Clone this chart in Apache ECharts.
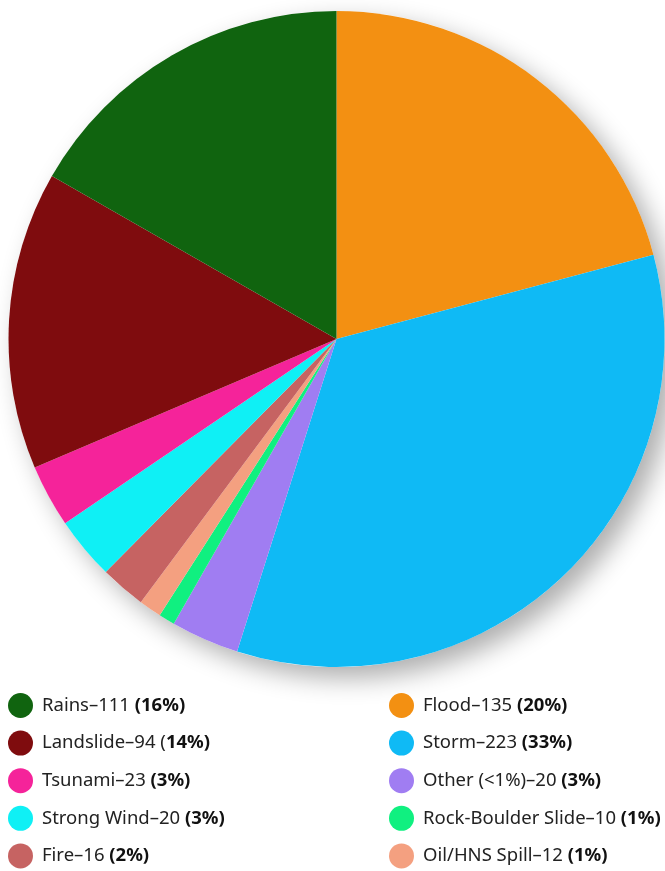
<!DOCTYPE html>
<html>
<head>
<meta charset="utf-8">
<script src="https://cdn.jsdelivr.net/npm/echarts@6/dist/echarts.min.js"></script>
<style>
  html, body { margin: 0; padding: 0; background: #fff; }
  #chart { width: 665px; height: 871px; }
</style>
</head>
<body>
<div id="chart"></div>
<script>
// categories in clockwise order from the top
var categories = ['Flood', 'Storm', 'Other (<1%)', 'Rock-Boulder Slide', 'Oil/HNS Spill', 'Fire', 'Strong Wind', 'Tsunami', 'Landslide', 'Rains'];
// counts and shares as printed in the legend
var counts = [135, 223, 20, 10, 12, 16, 20, 23, 94, 111];
var percents = ['20%', '33%', '3%', '1%', '1%', '2%', '3%', '3%', '14%', '16%'];
// slice sizes as drawn in the picture (measured from the angles)
var sliceValues = [138.5, 226, 22.3, 5.3, 7.4, 14.9, 20.5, 20.5, 97.5, 111];
var colors = ['#f39012', '#0fbaf5', '#a07df2', '#10f080', '#f4a080', '#c66362', '#0ff0f5', '#f5239a', '#7f0c0e', '#10640f'];

var leftLegend = ['Rains', 'Landslide', 'Tsunami', 'Strong Wind', 'Fire'];
var rightLegend = ['Flood', 'Storm', 'Other (<1%)', 'Rock-Boulder Slide', 'Oil/HNS Spill'];

var pieData = categories.map(function (c, i) {
  return { name: c, value: sliceValues[i], itemStyle: { color: colors[i] } };
});

function legendLabel(name) {
  var i = categories.indexOf(name);
  if (name === 'Landslide') {
    // the source has the opening bracket in regular weight here
    return '{n|' + name + '–' + counts[i] + ' (}{b|' + percents[i] + ')}';
  }
  return '{n|' + name + '–' + counts[i] + ' }{b|(' + percents[i] + ')}';
}

var legendText = {
  fontFamily: 'Noto Sans', fontSize: 18.5,
  padding: [0, 0, 0, 4],
  rich: {
    n: { fontFamily: 'Noto Sans', fontSize: 18.5, color: '#222', lineHeight: 25 },
    b: { fontFamily: 'Noto Sans', fontSize: 18.5, fontWeight: 'bold', color: '#111', lineHeight: 25 }
  }
};

function makeLegend(names, left) {
  return {
    data: names, orient: 'vertical', left: left, top: 693, height: 200, padding: 0,
    icon: 'circle', itemWidth: 25, itemHeight: 25, itemGap: 12.6,
    formatter: legendLabel, textStyle: legendText, selectedMode: false
  };
}

var chart = echarts.init(document.getElementById('chart'));
chart.setOption({
  animation: false,
  legend: [makeLegend(leftLegend, 8), makeLegend(rightLegend, 389)],
  series: [
    {
      // shadow disc behind the pie
      type: 'pie', silent: true, z: 1,
      center: [336.5, 339], radius: 328,
      label: { show: false },
      data: [{ value: 1, name: '_shadow', itemStyle: {
        color: '#fff', shadowColor: 'rgba(0,0,0,0.32)', shadowBlur: 26,
        shadowOffsetX: 11, shadowOffsetY: 11 } }]
    },
    {
      type: 'pie', z: 2,
      center: [336.5, 339], radius: 328,
      startAngle: 90, clockwise: true,
      label: { show: false }, labelLine: { show: false },
      itemStyle: { borderWidth: 0 },
      emphasis: { disabled: true },
      data: pieData
    }
  ]
});
</script>
</body>
</html>
